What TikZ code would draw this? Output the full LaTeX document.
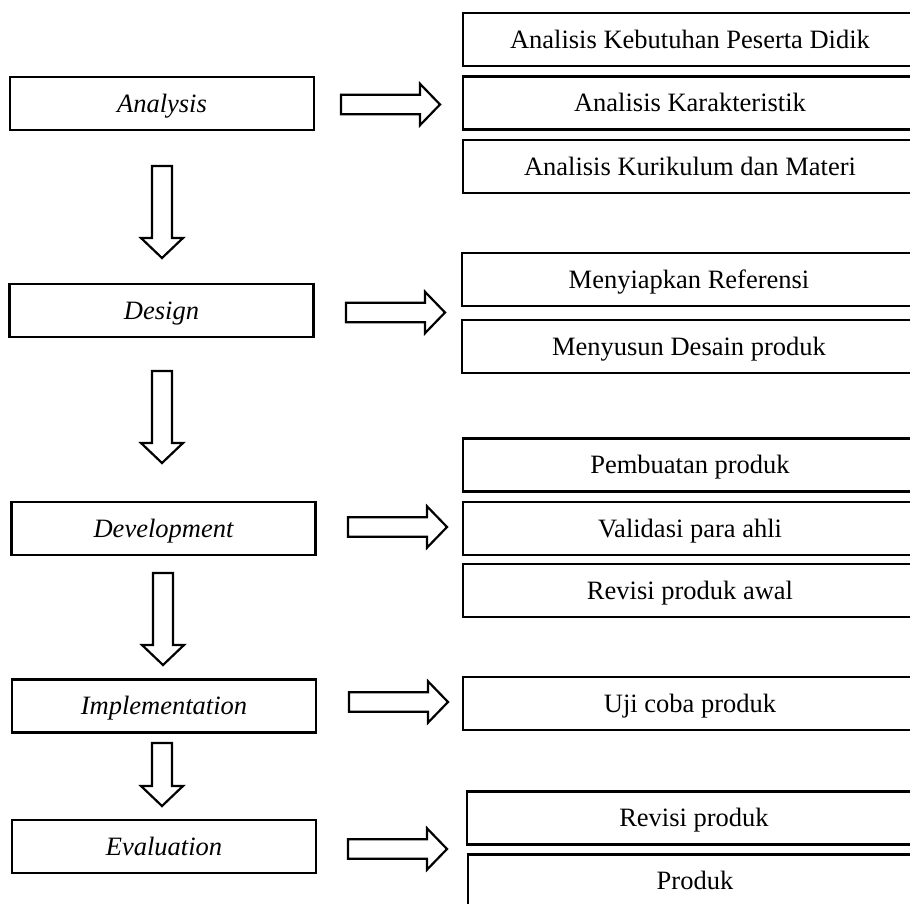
\documentclass[tikz,border=0pt]{standalone}
\usepackage{fontspec}
\setmainfont{Liberation Serif}
\begin{document}
\begin{tikzpicture}[x=1pt,y=-1pt,
  box/.style={draw=black,line width=2.2pt,inner sep=0pt,text height=17.5pt,text depth=0pt,
    font=\fontsize{26.5}{32}\selectfont,minimum height=53pt},
  lbox/.style={box,minimum width=304pt,font=\fontsize{26.5}{32}\selectfont\itshape},
  rbox/.style={box,minimum width=454pt},
  blk/.style={draw=black,line width=2.2pt,fill=white,line join=miter},
  rblk/.pic={\draw[blk] (0,-9.7) -- (79,-9.7) -- (79,-20.7) -- (99,0) -- (79,20.7) -- (79,9.7) -- (0,9.7) -- cycle;}
]
\useasboundingbox (0,0) rectangle (910,904);
\clip (0,0) rectangle (910,904);
\fill[white] (0,0) rectangle (910,904);

% left column
\node[lbox] (an) at (162,103.5) {Analysis};
\node[lbox] (de) at (161.5,310.5) {Design};
\node[lbox] (dv) at (163.5,528.5) {Development};
\node[lbox] (im) at (164,706) {Implementation};
\node[lbox] (ev) at (164,846.5) {Evaluation};

% right column
\node[rbox] (a1) at (690,39.5) {Analisis Kebutuhan Peserta Didik};
\node[rbox] (a2) at (690,103) {Analisis Karakteristik};
\node[rbox] (a3) at (690,166.5) {Analisis Kurikulum dan Materi};
\node[rbox] (d1) at (689,279.5) {Menyiapkan Referensi};
\node[rbox] (d2) at (689,346.5) {Menyusun Desain produk};
\node[rbox] (v1) at (690,465) {Pembuatan produk};
\node[rbox] (v2) at (690,528.5) {Validasi para ahli};
\node[rbox] (v3) at (690,590.5) {Revisi produk awal};
\node[rbox] (i1) at (690,703.5) {Uji coba produk};
\node[rbox] (e1) at (694,818) {Revisi produk};
\node[rbox] (e2) at (695,881) {Produk};

% horizontal block arrows
\pic at (341,104.5) {rblk};
\pic at (346,312.5) {rblk};
\pic at (348,527) {rblk};
\pic at (349,702) {rblk};
\pic at (348,849) {rblk};

% vertical block arrows
\draw[blk] (152,166) -- (172,166) -- (172,238) -- (183,238) -- (162,258) -- (141,238) -- (152,238) -- cycle;
\draw[blk] (152,371) -- (172,371) -- (172,443) -- (183,443) -- (162,463) -- (141,443) -- (152,443) -- cycle;
\draw[blk] (153,573) -- (173,573) -- (173,645) -- (184,645) -- (163,665) -- (142,645) -- (153,645) -- cycle;
\draw[blk] (152,743) -- (172,743) -- (172,786) -- (183,786) -- (162,806) -- (141,786) -- (152,786) -- cycle;
\end{tikzpicture}
\end{document}
